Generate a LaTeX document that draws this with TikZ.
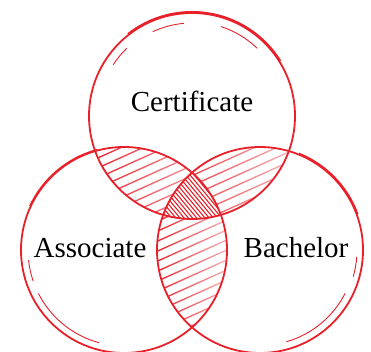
\documentclass[tikz,border=0pt]{standalone}
\usepackage{fontspec}
\setmainfont{Liberation Serif}
\definecolor{vred}{RGB}{232,32,42}
\begin{document}
\begin{tikzpicture}[x=1pt, y=1pt,
	ring/.style={draw=vred, line width=1.8pt},
	sketch/.style={draw=vred, line width=0.9pt},
	vtext/.style={font=\fontsize{29}{32}\selectfont, anchor=base}]
	\useasboundingbox (0,0) rectangle (371,352);
	\clip (0,0) rectangle (371,352);
	\def\rad{103}
	\coordinate (cert) at (192,236);
	\coordinate (asso) at (124,102);
	\coordinate (bach) at (260,102);
	% two-set overlaps
	\foreach \p/\q/\xa/\xb in {cert/asso/90/226, cert/bach/156/296, asso/bach/155/230} {
		\begin{scope}
			\clip (\p) circle (\rad);
			\clip (\q) circle (\rad);
			\shade[left color=vred, middle color=vred!90, right color=vred!30]
				\foreach \c in {-100,-90,...,180} {
					(\xa,{\c+0.45*\xa-0.75}) -- (\xb,{\c+0.45*\xb-0.75}) -- (\xb,{\c+0.45*\xb+0.75}) -- (\xa,{\c+0.45*\xa+0.75}) -- cycle};
		\end{scope}
	}
	% three-set overlap
	\begin{scope}
		\clip (cert) circle (\rad);
		\clip (asso) circle (\rad);
		\clip (bach) circle (\rad);
		\fill[white] (150,120) rectangle (240,190);
		\foreach \d in {320,325,...,450}
			\draw[vred, line width=1.1pt] (150,{\d-1.2*150}) -- (240,{\d-1.2*240});
	\end{scope}
	\draw[ring] (cert) circle (\rad);
	\draw[ring] (asso) circle (\rad);
	\draw[ring] (bach) circle (\rad);
	% pen strokes
	\draw[vred, line width=1.6pt] ([shift={(32:104.2)}]cert) arc[start angle=32, end angle=128, radius=104.2];
	\draw[sketch] ([shift={(95:93)}]cert) arc[start angle=95, end angle=115, radius=93];
	\draw[sketch] ([shift={(46:94)}]cert) arc[start angle=46, end angle=72, radius=94];
	\draw[sketch] ([shift={(134:94)}]cert) arc[start angle=134, end angle=147, radius=94];
	\draw[vred, line width=1.2pt] ([shift={(105:104)}]asso) arc[start angle=105, end angle=155, radius=104];
	\draw[sketch] ([shift={(186:96)}]asso) arc[start angle=186, end angle=199, radius=96];
	\draw[sketch] ([shift={(207:96)}]asso) arc[start angle=207, end angle=255, radius=96];
	\draw[vred, line width=1.4pt] ([shift={(20:104.2)}]bach) arc[start angle=20, end angle=68, radius=104.2];
	\draw[sketch] ([shift={(-16:97)}]bach) arc[start angle=-16, end angle=-4, radius=97];
	\draw[sketch] ([shift={(-74:95.5)}]bach) arc[start angle=-74, end angle=-27, radius=95.5];
	\node (certname) at (192,240) [vtext] {Certificate};
	\node (assoname) at (90,94) [vtext] {Associate};
	\node (bachname) at (296,94) [vtext] {Bachelor};
\end{tikzpicture}
\end{document}
